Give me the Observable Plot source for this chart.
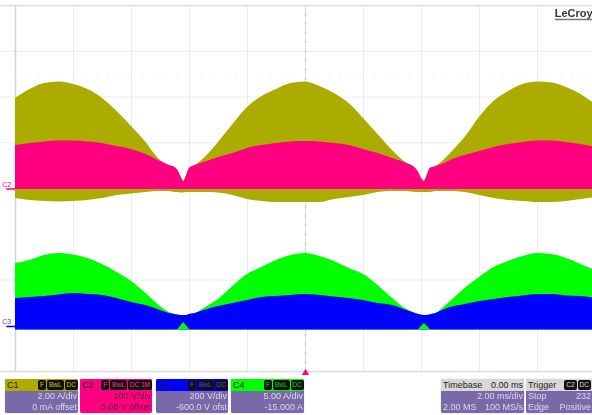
<!DOCTYPE html>
<html>
<head>
<meta charset="utf-8">
<script src="https://cdn.jsdelivr.net/npm/d3@7"></script>
<script src="https://cdn.jsdelivr.net/npm/@observablehq/plot@0.6"></script>
<style>
html,body{margin:0;padding:0;background:#fff;overflow:hidden;width:592px;height:415px;position:relative;font-family:"Liberation Sans",sans-serif}
#chart svg{display:block;filter:blur(.45px)}
#panels{position:absolute;left:0;top:375px;width:592px;height:40px;overflow:hidden;filter:blur(.4px)}
.p{position:absolute;top:4px;height:34px;border-radius:2px;background:#7a69a9;color:#dcd8ec;font-size:9px;overflow:hidden;box-sizing:border-box;box-shadow:0 0 1px #8d80b8}
.h{height:12px;line-height:12px;padding-left:2px;color:#222;position:relative;white-space:nowrap}
.chips{position:absolute;right:0;top:1px;display:flex;gap:1px}
.chip{background:#111;border-radius:2px;height:10px;line-height:10px;font-size:6.5px;padding:0 2px}
.r{display:flex;justify-content:space-between;padding:0 1px 0 2px;height:11px;line-height:11px;white-space:nowrap}
</style>
</head>
<body>
<div id="chart"></div>
<div id="panels"></div>
<script>
// time base, ms (2 ms/div, trigger at 0)
const times = [-10,-9.5,-9,-8.5,-8,-7.5,-7,-6.5,-6,-5.5,-5,-4.7,-4.5,-4.4,-4.3,-4.2,-4.1,-4,-3.8,-3.5,
  -3,-2.5,-2,-1.5,-1,-0.5,0,0.5,1,1.5,2,2.5,3,3.5,3.8,3.9,4,4.1,4.2,4.3,4.5,4.8,
  5,5.5,6,6.5,7,7.5,8,8.5,9,9.5,10];
// envelope levels (45.75 levels per division, 0 = bottom of graticule)
const c1Top = [273,282,288,289.5,287,282,273,260,245,229,211,206,204,201,195,190,196,203,206,213,
  229,247,264,275,282,288,289.5,285,278,268,253,237,221,208,203,199,193,190,196,203,205,212,
  218,234,254,270,280,287,289.5,288.5,284,277,267];
const c1Bottom = [173,171,170,169.5,170,171,173,176,177.5,179,180,180,179,179,178.5,178.5,179,179,179,179,
  178.5,176,172,170,169,169,169,169,172,174,176,179,180,180,179,179,179,179,179,179,180,180,
  180,179,176,173,171,170,169,169,170,172,174];
const c2Top = [226,228,229.5,230.5,230.5,229.5,228,225,222,217,210,206,204,201,195,190,196,203,206,209,
  214,218,223,226,228,229.5,230,229.5,228,226,222,218,213,208,203,199,193,190,196,203,205,208,
  211,216,220,224,227,229,230.5,230.5,229,227,224];
const c2BottomLevel = 182;
const c4Top = [108,111,116,118,116.5,113,107,99,90,78,65,59,57,56,56,56,56,57,58,63,
  72,85,97,104,111,116,118,115,110,103,97,86,73,62,58,57,56,56,56,57,58,65,
  70,83,94,104,110,115,118,117,113,107,101];
const c3Top = [73,74,75,76.5,78,77,76,73,69,66,61,58,57,56.5,56,56,56,57,58,61,
  65,68,71,74,75,76,77,76,74.5,73,71,68,66,61,58,57,56.5,56,56,56.5,58,62,
  64,67,70,72,74,75.5,77,77,75.5,75,73];
const c3BottomLevel = 41.5;
const spikeLeft = {t:[-4.4,-4.2,-4], top:[42,49,42]};
const spikeRight = {t:[3.9,4.1,4.3], top:[42,48,42]};

const divLevels = 45.75;
const gridTimes = [-10,-8,-6,-4,-2,0,2,4,6,8];
const gridDivs = [0,1,2,4,5,6,7,8];
const crossPoints = [-8,-6,-4,-2,0,2,4,6,8];
const minorTimes = d3.range(-10,10,0.4);
const minorDivs = d3.range(0,8,0.2);

const rows = times.map((t,i)=>({t,c1t:c1Top[i],c1b:c1Bottom[i],c2t:c2Top[i],c2b:c2BottomLevel,c4t:c4Top[i],c3t:c3Top[i],c3b:c3BottomLevel}));
const sp = s => s.t.map((t,i)=>({t,top:s.top[i]}));
const L = d => d*divLevels;

const colors = {c1:"#abab00", c2:"#ff0080", c3:"#0000ff", c4:"#00ff00"};
const curve = "monotone-x";

const chart = Plot.plot({
  width:592, height:375, margin:0,
  x:{domain:[-10,10], range:[15,595], axis:null},
  y:{domain:[0,366], range:[371,5], axis:null},
  marks:[
    Plot.ruleY(gridDivs,{y:L,stroke:"#ececec",strokeWidth:1}),
    Plot.ruleX(gridTimes,{x:d=>d,y1:0,y2:366,stroke:"#ebebeb",strokeWidth:1}),
    Plot.ruleX([-10],{x:d=>d,y1:0,y2:366,stroke:"#d2d2d2",strokeWidth:1.5}),
    Plot.ruleX([0],{x:d=>d,y1:0,y2:366,stroke:"#dcdcdc",strokeWidth:1.2}),
    Plot.ruleY([0,8],{y:L,stroke:"#dcdcdc",strokeWidth:1.5}),
    Plot.dot(minorTimes,{x:d=>d,y:()=>L(6.5),r:0.6,fill:"#dcdcdc"}),
    Plot.dot(minorDivs,{x:()=>0,y:L,r:1,fill:"#cccccc"}),
    Plot.dot(crossPoints,{x:d=>d,y:()=>L(5),r:0.9,fill:"#d8d8d8"}),
    Plot.dot(crossPoints,{x:d=>d,y:()=>L(1),r:0.9,fill:"#d8d8d8"}),
    Plot.areaY(rows,{x:"t",y1:"c1b",y2:"c1t",fill:colors.c1,curve}),
    Plot.areaY(rows,{x:"t",y1:"c2b",y2:"c2t",fill:colors.c2,curve}),
    Plot.areaY(rows,{x:"t",y1:"c3b",y2:"c4t",fill:colors.c4,curve}),
    Plot.areaY(rows,{x:"t",y1:"c3b",y2:"c3t",fill:colors.c3,curve}),
    Plot.areaY(sp(spikeLeft),{x:"t",y1:()=>c3BottomLevel,y2:"top",fill:colors.c4}),
    Plot.areaY(sp(spikeRight),{x:"t",y1:()=>c3BottomLevel,y2:"top",fill:colors.c4}),
    Plot.dot([0],{x:d=>d,y:()=>-2,symbol:"triangle",r:3,fill:colors.c2}),
    Plot.text(["C2"],{x:()=>-10.15,y:()=>187,text:d=>d,textAnchor:"end",fontSize:7,fill:colors.c2,fontFamily:"Liberation Sans"}),
    Plot.ruleY([182.5],{y:d=>d,x1:-10.3,x2:-10,stroke:colors.c2,strokeWidth:1.5}),
    Plot.text(["C3"],{x:()=>-10.15,y:()=>50,text:d=>d,textAnchor:"end",fontSize:7,fill:"#3a3ae8",fontFamily:"Liberation Sans"}),
    Plot.ruleY([45],{y:d=>d,x1:-10.3,x2:-10,stroke:colors.c3,strokeWidth:1.5}),
    Plot.text(["LeCroy"],{x:()=>9.9,y:()=>358,text:d=>d,textAnchor:"end",fontSize:11,fontWeight:600,fill:"#333",fontFamily:"Liberation Sans"}),
    Plot.ruleY([352],{y:d=>d,x1:8.62,x2:9.9,stroke:"#777",strokeWidth:1.5})
  ]
});
document.getElementById("chart").appendChild(chart);

const channels = [
  {left:5,w:73,name:"C1",head:colors.c1,chips:["F","BwL","DC"],chipText:"#c8c800",l1:"2.00 A/div",l2:"0 mA offset"},
  {left:80,w:72,name:"C2",head:colors.c2,chips:["F","BwL","DC 1M"],chipText:"#ff3399",l1:"200 V/div",l2:"0.00 V offset",body:colors.c2,text:"#5a0a3a"},
  {left:156,w:72,name:"C3",head:colors.c3,chips:["F","BwL","DC"],chipText:"#4444ff",l1:"200 V/div",l2:"-600.0 V ofst"},
  {left:231,w:73,name:"C4",head:colors.c4,chips:["F","BwL","DC"],chipText:"#00dd00",l1:"5.00 A/div",l2:"-15.000 A"}
];
const panels = document.getElementById("panels");
let html = "";
for (const c of channels) {
  html += `<div class="p" style="left:${c.left}px;width:${c.w}px;${c.body?`background:${c.body};color:${c.text};`:""}">
  <div class="h" style="background:${c.head}">${c.name}<span class="chips">${c.chips.map(s=>`<span class="chip" style="color:${c.chipText}">${s}</span>`).join("")}</span></div>
  <div class="r" style="justify-content:flex-end">${c.l1}</div>
  <div class="r" style="justify-content:flex-end">${c.l2}</div></div>`;
}
html += `<div class="p" style="left:441px;width:83px">
  <div class="h" style="background:#d8d8d8;display:flex;justify-content:space-between;padding-right:1px"><span>Timebase</span><span>0.00 ms</span></div>
  <div class="r" style="justify-content:flex-end">2.00 ms/div</div>
  <div class="r"><span>2.00 MS</span><span>100 MS/s</span></div></div>`;
html += `<div class="p" style="left:526px;width:76px">
  <div class="h" style="background:#d8d8d8">Trigger<span class="chips" style="right:11px"><span class="chip" style="color:#ddd">C2</span><span class="chip" style="color:#ddd">DC</span></span></div>
  <div class="r" style="padding-right:11px"><span>Stop</span><span>232</span></div>
  <div class="r" style="padding-right:11px"><span>Edge</span><span>Positive</span></div></div>`;
panels.innerHTML = html;
</script>
</body>
</html>
